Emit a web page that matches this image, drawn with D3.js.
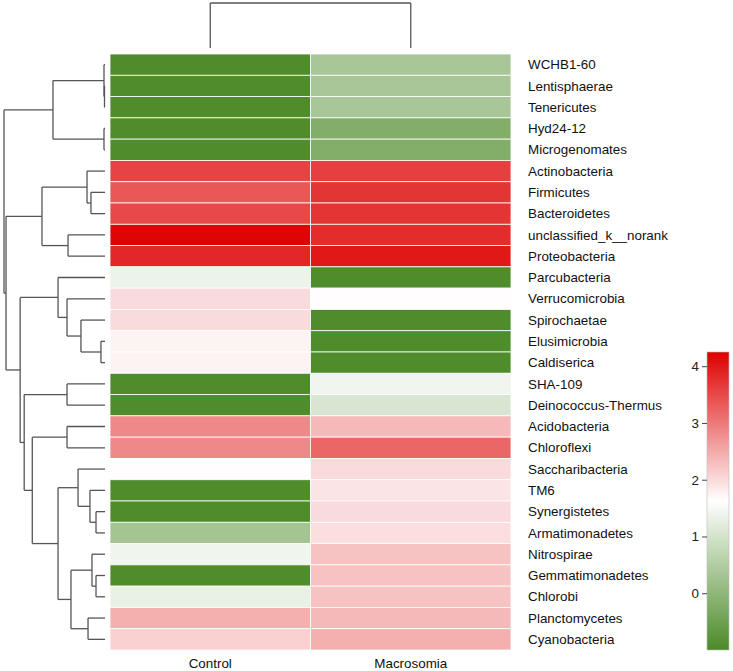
<!DOCTYPE html>
<html>
<head>
<meta charset="utf-8">
<script src="https://cdn.jsdelivr.net/npm/d3@7"></script>
<style>
  html, body { margin: 0; padding: 0; background: #ffffff; }
  svg { display: block; }
</style>
</head>
<body>
<svg id="chart" width="733" height="671"></svg>
<script>
// ---------------- data ----------------
const rowNames = [
  "WCHB1-60", "Lentisphaerae", "Tenericutes", "Hyd24-12", "Microgenomates",
  "Actinobacteria", "Firmicutes", "Bacteroidetes", "unclassified_k__norank", "Proteobacteria",
  "Parcubacteria", "Verrucomicrobia", "Spirochaetae", "Elusimicrobia", "Caldiserica",
  "SHA-109", "Deinococcus-Thermus", "Acidobacteria", "Chloroflexi", "Saccharibacteria",
  "TM6", "Synergistetes", "Armatimonadetes", "Nitrospirae", "Gemmatimonadetes",
  "Chlorobi", "Planctomycetes", "Cyanobacteria"
];
const colNames = ["Control", "Macrosomia"];
const controlValues = [
  -0.95, -0.95, -0.95, -0.95, -0.95,
  3.55, 3.35, 3.5, 4.2, 3.85,
  1.35, 2.0, 2.0, 1.75, 1.75,
  -0.95, -0.95, 2.85, 2.85, 1.65,
  -0.95, -0.95, 0.3, 1.4, -0.95,
  1.3, 2.45, 2.1
];
const macrosomiaValues = [
  0.35, 0.35, 0.35, -0.2, -0.2,
  3.6, 3.7, 3.7, 3.8, 4.0,
  -0.95, 1.65, -0.95, -0.95, -0.95,
  1.4, 1.05, 2.35, 3.2, 2.0,
  1.9, 2.0, 1.95, 2.25, 2.25,
  2.25, 2.35, 2.45
];
const legendTicks = [0, 1, 2, 3, 4];
const colorDomain = [-1.0, 1.625, 4.25];

// row dendrogram: [height, left, right]; integers are row indices
const rowTree =
  [1.0,
    [0.515, [0.01, 0, [0.005, 1, 2]], [0.01, 3, 4]],
    [0.98,
      [0.624, [0.178, 5, [0.139, 6, 7]], [0.366, 8, 9]],
      [0.84,
        [0.465, 10, [0.376, 11, [0.238, 12, [0.04, 13, 14]]]],
        [0.80,
          [0.376, 15, 16],
          [0.72,
            [0.376, 17, 18],
            [0.465,
              [0.267, 19, [0.149, 20, [0.089, 21, 22]]],
              [0.337, [0.129, 23, [0.089, 24, 25]], [0.168, 26, 27]]
            ]
          ]
        ]
      ]
    ]
  ];
// column dendrogram
const colTree = [1.0, 0, 1];

// ---------------- drawing ----------------
const svg = d3.select("#chart");
const FONT = "'Liberation Sans', Arial, Helvetica, sans-serif";
const FS = 13.4;

const heatLeft = 110, heatRight = 511, heatTop = 54, heatBottom = 650;

const y = d3.scaleBand().domain(d3.range(rowNames.length)).range([heatTop, heatBottom]);
const x = d3.scaleBand().domain(d3.range(colNames.length)).range([heatLeft, heatRight]);

const color = d3.scaleLinear()
  .domain(colorDomain)
  .range(["#4b8a28", "#ffffff", "#dd0000"])
  .interpolate(d3.interpolateRgb)
  .clamp(true);

const cells = [];
rowNames.forEach((r, i) => {
  cells.push({ r: i, c: 0, v: controlValues[i] });
  cells.push({ r: i, c: 1, v: macrosomiaValues[i] });
});

svg.append("g").selectAll("rect").data(cells).join("rect")
  .attr("x", d => x(d.c))
  .attr("y", d => y(d.r))
  .attr("width", x.bandwidth())
  .attr("height", y.bandwidth())
  .attr("fill", d => color(d.v))
  .attr("stroke", "#ffffff")
  .attr("stroke-width", 0.8);

// row labels
svg.append("g").selectAll("text").data(rowNames).join("text")
  .attr("x", 528)
  .attr("y", (d, i) => y(i) + y.bandwidth() / 2)
  .attr("dy", "0.35em")
  .attr("font-family", FONT)
  .attr("font-size", FS)
  .attr("fill", "#111")
  .text(d => d);

// column labels
svg.append("g").selectAll("text").data(colNames).join("text")
  .attr("x", (d, i) => x(i) + x.bandwidth() / 2)
  .attr("y", 663)
  .attr("dy", "0.35em")
  .attr("text-anchor", "middle")
  .attr("font-family", FONT)
  .attr("font-size", FS)
  .attr("fill", "#111")
  .text(d => d);

// row dendrogram
const rowDendroG = svg.append("g")
  .attr("fill", "none").attr("stroke", "#555").attr("stroke-width", 1.3);
const hx = d3.scaleLinear().domain([0, 1.0]).range([105, 4]);

function drawRow(node) {
  if (typeof node === "number") {
    return { y: y(node) + y.bandwidth() / 2, x: hx(0) };
  }
  const [h, l, r] = node;
  const a = drawRow(l), b = drawRow(r);
  const nx = hx(h);
  rowDendroG.append("line").attr("x1", nx).attr("x2", nx).attr("y1", a.y).attr("y2", b.y);
  rowDendroG.append("line").attr("x1", nx).attr("x2", a.x).attr("y1", a.y).attr("y2", a.y);
  rowDendroG.append("line").attr("x1", nx).attr("x2", b.x).attr("y1", b.y).attr("y2", b.y);
  return { y: (a.y + b.y) / 2, x: nx };
}
drawRow(rowTree);

// column dendrogram
const colDendroG = svg.append("g")
  .attr("fill", "none").attr("stroke", "#555").attr("stroke-width", 1.3);
const hy = d3.scaleLinear().domain([0, 1.0]).range([48, 3]);
function drawCol(node) {
  if (typeof node === "number") {
    return { x: x(node) + x.bandwidth() / 2, y: hy(0) };
  }
  const [h, l, r] = node;
  const a = drawCol(l), b = drawCol(r);
  const ny = hy(h);
  colDendroG.append("line").attr("y1", ny).attr("y2", ny).attr("x1", a.x).attr("x2", b.x);
  colDendroG.append("line").attr("y1", ny).attr("y2", a.y).attr("x1", a.x).attr("x2", a.x);
  colDendroG.append("line").attr("y1", ny).attr("y2", b.y).attr("x1", b.x).attr("x2", b.x);
  return { x: (a.x + b.x) / 2, y: ny };
}
drawCol(colTree);

// colour legend
const legTop = 352, legBottom = 650, legLeft = 707, legWidth = 22;
const ly = d3.scaleLinear().domain([colorDomain[0], colorDomain[2]]).range([legBottom, legTop]);
const defs = svg.append("defs");
const grad = defs.append("linearGradient").attr("id", "legGrad")
  .attr("x1", 0).attr("y1", 1).attr("x2", 0).attr("y2", 0);
colorDomain.forEach((v) => {
  grad.append("stop")
    .attr("offset", (v - colorDomain[0]) / (colorDomain[2] - colorDomain[0]))
    .attr("stop-color", color(v));
});
svg.append("rect")
  .attr("x", legLeft).attr("y", legTop)
  .attr("width", legWidth).attr("height", legBottom - legTop)
  .attr("fill", "url(#legGrad)")
  .attr("stroke", "#bbb").attr("stroke-width", 0.6);

const legAxis = svg.append("g").attr("transform", `translate(${legLeft},0)`)
  .call(d3.axisLeft(ly).tickValues(legendTicks).tickSize(5).tickPadding(3).tickFormat(d3.format("d")));
legAxis.select(".domain").remove();
legAxis.selectAll("line").attr("stroke", "#444");
legAxis.selectAll("text").attr("font-family", FONT).attr("font-size", FS).attr("fill", "#222");
</script>
</body>
</html>
